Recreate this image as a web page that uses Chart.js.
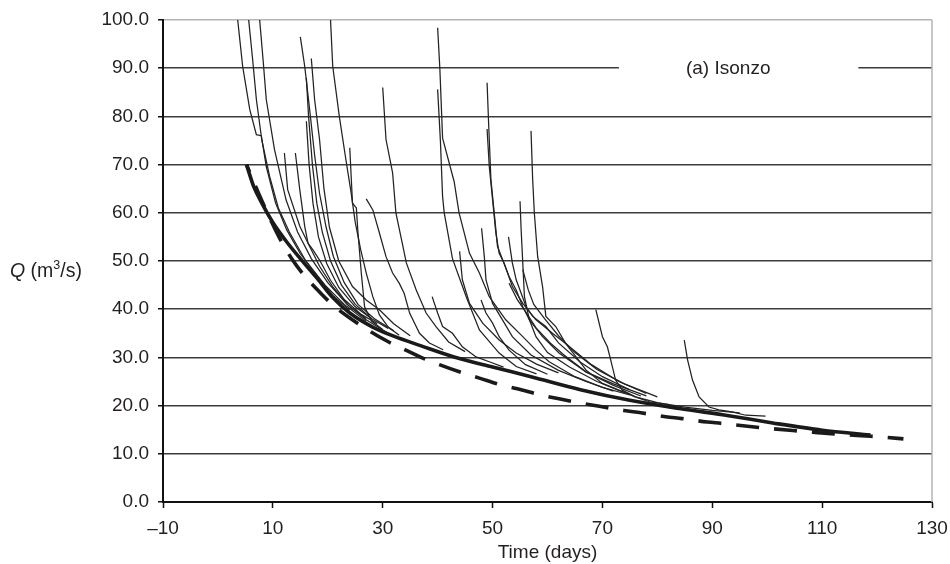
<!DOCTYPE html>
<html>
<head>
<meta charset="utf-8">
<title>Isonzo recession curves</title>
<script src="https://cdn.jsdelivr.net/npm/chart.js@4.4.1/dist/chart.umd.min.js"></script>
<style>
  html, body { margin: 0; padding: 0; background: #fff; }
  canvas { display: block; }
</style>
</head>
<body>
<canvas id="recessionChart" width="950" height="564"></canvas>
<script>
// Axis ticks
const xTickValues = [-10, 10, 30, 50, 70, 90, 110, 130];
const yTickValues = [0, 10, 20, 30, 40, 50, 60, 70, 80, 90, 100];

// Master recession curve (thick solid) and fitted curve (thick dashed), [day, Q]
const masterCurve = [[5.2,70],[6.5,65.5],[8,62],[10,58],[12.5,54],[15,50.5],[18,46.5],[21,42.3],[24,39.2],[28,36.4],[32,34.4],[37,32.4],[43,30.1],[50,28],[57,26],[66,23.3],[75,21.1],[84,19.4],[93,17.9],[101,16.4],[110,14.9],[118.8,13.9]];
const fittedCurve = [[5.2,70],[8,62.5],[11.2,54.8],[13.6,50.2],[15.5,47.3],[18.8,43.2],[21,40.8],[25,37.4],[30.6,33.5],[33.3,32],[37.6,29.7],[40.3,28.5],[44.5,26.8],[47.6,25.7],[51.5,24.3],[54.5,23.5],[59.1,22.1],[62.1,21.4],[66.7,20.4],[69.7,19.8],[73.9,19],[77,18.5],[81.5,17.7],[84.5,17.3],[89.1,16.6],[91.8,16.3],[96.4,15.7],[100,15.3],[107,14.6],[111,14.2],[114.3,13.95],[118.8,13.65],[121.8,13.4],[124.8,13.1]];

// Individual recession events (thin lines), [day, Q]
const ev04 = [[3.6,100],[4.5,90.4],[5.8,81.4],[7,76.2],[7.9,76],[8.8,69.6],[10.5,62],[12.5,56.5],[15,51.5],[18,47],[21,42.8],[24,39.8]];
const ev06 = [[5.6,100],[6.3,92],[7,83.5],[8,75],[9.4,67.6],[11,61],[13,56],[16,50],[19.5,45],[23,41],[27,37.5]];
const ev08 = [[7.6,100],[8.2,92],[8.8,83.5],[10.3,73.1],[12.4,62.7],[14.5,56],[17,50.5],[20,45.5],[23.5,41],[27,37.8],[31,35]];
const ev12 = [[12.1,72.4],[12.7,64.8],[14.9,57.2],[16.7,53],[18.5,48.9],[21,44.5],[24,40.5],[27,38]];
const ev14 = [[14.1,72.4],[14.9,64.8],[15.8,57.2],[16.4,53.7],[17.3,52.3],[18.5,50.2],[20.5,46],[23,42],[26,39],[29,37]];
const ev15 = [[15,96.5],[15.8,90.4],[16.7,81.4],[17.6,72],[18.5,64],[19.7,57],[21,51],[23,45.5],[25.5,41],[28.5,38],[32,35.5]];
const ev16a = [[16.1,88],[16.5,80],[17.2,70],[18,62],[19,56],[20.5,50],[22.5,45],[25,41],[28,38],[31,36]];
const ev16b = [[16.1,79],[16.6,70],[17.3,62],[18.3,55],[19.8,49.5],[22,44.5],[25,40.5],[28,38]];
const ev17 = [[17,92],[17.6,83.5],[18.5,75.2],[19.3,65],[20.3,57],[22,50],[24.5,44.7],[27,41.9],[29.4,39.9],[32,37],[35,34.5]];
const ev20 = [[20.5,100],[20.9,90.4],[22.1,80],[23.3,71],[24.2,64.5],[25,58],[26,52.3],[27,47.5],[28.2,42.6],[29.4,38.8],[31,36.3],[33,34.6]];
const ev24 = [[24,73.5],[24.5,62],[25.2,61],[25.5,55.8],[26.1,47.5],[26.7,40.5],[28,37.5],[30,35.8]];
const ev27 = [[27,62.9],[28.2,60.6],[29.4,55.8],[30.6,50.9],[31.8,47.5],[33,45.4],[33.9,43.3],[34.9,39.2],[36.7,35],[38.5,33],[41,31.6]];
const ev30 = [[30,86],[30.6,75.2],[31.8,68.3],[32.4,60],[33.5,54],[34.3,49.6],[36.1,44],[37.9,39.2],[39.7,36.4],[42,33.2],[45,31.2]];
const ev39 = [[39,42.6],[40,39.2],[40.9,36.4],[42.7,35],[44.5,32.2],[47,30.1],[49.4,29.1],[52,28]];
const ev40a = [[40,98.4],[40.4,90],[40.9,75.5],[43,66.5],[43.9,60],[45.8,51.6],[47.6,47.5],[49.4,42.6],[52.4,37.8],[55.5,34.3],[57.9,31.5],[60.3,29.1],[65,26],[70,23.8],[75,22.2]];
const ev40b = [[40,85.6],[40.5,75],[40.9,63.4],[41.2,60],[42.7,50.5],[45.2,42.6],[47.6,35.7],[51.2,30.9],[54.3,28.1],[58,26.6]];
const ev44 = [[44,52],[44.5,46.1],[45.8,41.2],[48.2,37.1],[51.2,33.6],[54.3,30.9],[58,28.6],[62,26.8]];
const ev48a = [[48,56.8],[48.5,50.9],[48.8,46.1],[50,41.2],[51.8,37.8],[53.6,34.3],[57,30.5],[62,27.3],[67,25],[72,23]];
const ev48b = [[47.9,41.9],[48.8,39.2],[50,37.1],[51.2,34.3],[53,31.5],[56,28.5],[60,26.5]];
const ev49a = [[49,87],[49.3,78],[49.7,66.9],[50.3,60],[50.9,53],[53,46.8],[54.3,44],[55.5,40.5],[56.7,37.8],[59.1,34.3],[62.1,30.9],[67,27],[72,24.2],[77,22]];
const ev49b = [[49,77.4],[49.4,69.6],[50,62.7],[50.6,55.8],[51.2,51.6],[52.1,49.6],[53.6,44.7],[55.5,41.2],[57.9,37.8],[60.9,35],[63.3,32.9],[68,28.5],[73,25],[78,22.5]];
const ev53a = [[52.9,55],[53.6,49.6],[54.3,46.1],[56.1,40.5],[57.3,38.5],[59.7,36.4],[62,33],[66,29],[70,26],[75,23.3]];
const ev53b = [[53,45.4],[54.5,42],[56,39.5],[58,36],[60.5,33],[63,30.5],[67,27],[72,24.5],[78,22]];
const ev55a = [[55,62.4],[55.2,56.5],[55.5,49.6],[55.8,42.6],[56.7,37.8],[57.9,34.3],[60,31],[64,28],[69,25],[74,22.7]];
const ev55b = [[55.5,48.2],[56.5,44],[57.5,41],[59.5,38],[62,34.5],[65,31],[69,27.5],[74,24.5],[80,21.8]];
const ev57 = [[57,77],[57.3,66.9],[57.6,60],[58.2,51],[59.1,44.7],[59.7,38.5],[61.5,36.4],[63.3,32.9],[65.2,30.1],[67,27.4],[70,24.6],[73,23.2],[76,21.8],[80,20.6],[85,19.7],[90,19],[95,18.5]];
const ev69 = [[68.8,39.9],[70,34.3],[70.9,32.2],[71.5,29.5],[72.4,25.3],[73.6,23.2],[76,21.8],[78.5,20.8],[82,20.2]];
const ev85 = [[84.9,33.6],[85.5,29.5],[86.4,25.3],[87.6,21.8],[89.4,19.7],[91.2,19.1],[93.6,18.7],[96.1,18],[99.7,17.8]];

const events = [ev04, ev06, ev08, ev12, ev14, ev15, ev16a, ev16b, ev17, ev20, ev24, ev27, ev30,
  ev39, ev40a, ev40b, ev44, ev48a, ev48b, ev49a, ev49b, ev53a, ev53b, ev55a, ev55b, ev57, ev69, ev85];

// Panel label sits on the 90 gridline, which is broken around it
const panelLabel = "(a) Isonzo";
const labelGridValue = 90;
const labelGap = [73, 116.6];
const labelCenter = 92.9;

const textColor = "#231f20";
const fontFamily = '"Liberation Sans", Arial, Helvetica, sans-serif';
Chart.defaults.font.family = fontFamily;
Chart.defaults.font.size = 19;
Chart.defaults.color = textColor;

const toPoints = (arr) => arr.map(([x, y]) => ({ x, y }));

const thinSets = events.map((ev) => ({
  data: toPoints(ev),
  borderColor: "#222",
  borderWidth: 1.25,
  pointRadius: 0,
  tension: 0,
  fill: false,
}));

// Draw the label box, the right frame line and the horizontal y title
const extras = {
  id: "extras",
  beforeDatasetsDraw(chart) {
    const { ctx, chartArea, scales: { x, y } } = chart;
    ctx.save();
    // light frame on the right
    ctx.strokeStyle = "#b4b4b4";
    ctx.lineWidth = 1.5;
    ctx.beginPath();
    ctx.moveTo(chartArea.right, chartArea.top);
    ctx.lineTo(chartArea.right, chartArea.bottom);
    ctx.stroke();

    // panel label
    const gy = y.getPixelForValue(labelGridValue);
    const x0 = x.getPixelForValue(labelGap[0]);
    const x1 = x.getPixelForValue(labelGap[1]);
    ctx.fillStyle = "#fff";
    ctx.fillRect(x0, gy - 4, x1 - x0, 8);
    ctx.fillStyle = textColor;
    ctx.font = "19px " + fontFamily;
    ctx.textAlign = "center";
    ctx.textBaseline = "middle";
    ctx.fillText(panelLabel, x.getPixelForValue(labelCenter), gy + 1);

    // y axis title: Q (m3/s)
    const base = (chartArea.top + chartArea.bottom) / 2 + 16;
    let px = 10;
    ctx.textAlign = "left";
    ctx.textBaseline = "alphabetic";
    ctx.font = "italic 19.5px " + fontFamily;
    ctx.fillText("Q", px, base);
    px += ctx.measureText("Q").width;
    ctx.font = "19.5px " + fontFamily;
    ctx.fillText(" (m", px, base);
    px += ctx.measureText(" (m").width;
    ctx.font = "12.5px " + fontFamily;
    ctx.fillText("3", px, base - 8);
    px += ctx.measureText("3").width;
    ctx.font = "19.5px " + fontFamily;
    ctx.fillText("/s)", px, base);
    ctx.restore();
  },
};

const chart = new Chart(document.getElementById("recessionChart"), {
  type: "line",
  data: {
    datasets: [
      ...thinSets,
      {
        data: toPoints(masterCurve),
        borderColor: "#1a1a1a",
        borderWidth: 3.6,
        pointRadius: 0,
        cubicInterpolationMode: "monotone",
        fill: false,
      },
      {
        data: toPoints(fittedCurve),
        borderColor: "#1a1a1a",
        borderWidth: 3.6,
        borderDash: [23, 15],
        borderDashOffset: 15,
        pointRadius: 0,
        cubicInterpolationMode: "monotone",
        fill: false,
      },
    ],
  },
  options: {
    responsive: false,
    animation: false,
    events: [],
    layout: { padding: { top: 20, right: 18, left: 0, bottom: 0 } },
    plugins: { legend: { display: false }, tooltip: { enabled: false } },
    scales: {
      x: {
        type: "linear",
        min: -10,
        max: 130,
        afterBuildTicks: (scale) => { scale.ticks = xTickValues.map((v) => ({ value: v })); },
        afterFit: (scale) => {
          scale.height = 62;
          scale.paddingLeft = 0;
          scale.paddingRight = 0;
        },
        ticks: {
          padding: 9,
          maxRotation: 0,
          callback: (v) => (v < 0 ? "\u2013" + Math.abs(v) : String(v)),
        },
        grid: {
          drawOnChartArea: false,
          drawTicks: true,
          tickLength: 6,
          tickColor: "#111",
          tickWidth: 1.5,
        },
        border: { display: true, color: "#111", width: 2 },
        title: {
          display: true,
          text: "Time (days)",
          font: { size: 19 },
          padding: { top: 0, bottom: 0 },
        },
      },
      y: {
        min: 0,
        max: 100,
        afterBuildTicks: (scale) => { scale.ticks = yTickValues.map((v) => ({ value: v })); },
        afterFit: (scale) => {
          scale.width = 163;
          scale.paddingTop = 0;
          scale.paddingBottom = 0;
        },
        ticks: {
          padding: 9,
          callback: (v) => v.toFixed(1),
        },
        grid: {
          color: (c) => (c.tick && c.tick.value === 100 ? "#b4b4b4" : "#3c3c3c"),
          lineWidth: 1.5,
          drawTicks: true,
          tickLength: 5,
          tickColor: "#111",
          tickWidth: 1.5,
        },
        border: { display: true, color: "#111", width: 2 },
      },
    },
  },
  plugins: [extras],
});
</script>
</body>
</html>
